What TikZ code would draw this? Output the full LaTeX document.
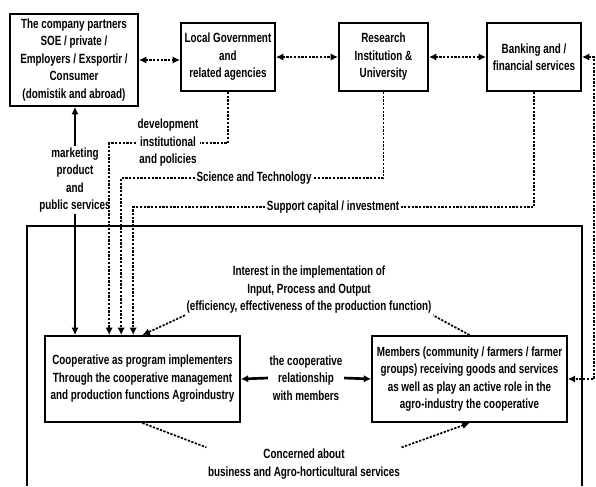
\documentclass[tikz,border=0pt]{standalone}
\usepackage{fontspec}
\setmainfont{Liberation Sans}[FakeStretch=0.74]
\usetikzlibrary{positioning, arrows.meta, calc}

\begin{document}
\begin{tikzpicture}[x=0.75pt, y=-0.75pt,
  >={Latex[length=5.5pt,width=5.5pt]},
  font=\fontsize{10}{13.1}\selectfont\bfseries,
  box/.style={draw, line width=1.5pt, align=center, inner sep=2pt},
  flow/.style={line width=1.3pt, dash pattern=on 1.7pt off 1.1pt},
  link/.style={line width=1.1pt},
  lbl/.style={align=center, inner sep=1pt}]
  \useasboundingbox (0,0) rectangle (596,486);

  % outer frame (open at the bottom)
  \draw[line width=1.3pt] (27,486) |- (582,226) -- (582,486);

  % partners and institutions
  \node[box, minimum width=96pt, minimum height=69pt] (partner) at (74,60)
    {The company partners\\SOE / private /\\Employers / Exsportir /\\Consumer\\(domistik and abroad)};
  \node[box, minimum width=70.5pt, minimum height=51pt] (gov) at (228,57)
    {Local Government\\and\\related agencies};
  \node[box, minimum width=66.75pt, minimum height=51pt] (research) at (383.5,57)
    {Research\\Institution \&\\University};
  \node[box, minimum width=70.5pt, minimum height=51pt] (bank) at (534,57)
    {Banking and /\\financial services};

  % cooperative and members
  \node[box, minimum width=146pt, minimum height=64.5pt] (coop) at (142.5,379)
    {Cooperative as program implementers\\Through the cooperative management\\and production functions Agroindustry};
  \node[box, minimum width=146pt, minimum height=64.5pt] (members) at (469.5,379)
    {Members (community / farmers / farmer\\groups) receiving goods and services\\as well as play an active role in the\\agro-industry the cooperative};

  % labels
  \node[lbl] (mkt) at (75,180) {marketing\\product\\and\\public services};
  \node[lbl] (dev) at (168,143) {development\\institutional\\and policies};
  \node[lbl] (sci) at (254,178) {Science and Technology};
  \node[lbl] (sup) at (333,207) {Support capital / investment};
  \node[lbl] (rel) at (306,378) {the cooperative\\relationship\\with members};
  \node[lbl] (intr) at (309,290)
    {Interest in the implementation of\\Input, Process and Output\\(efficiency, effectiveness of the production function)};
  \node[lbl] (conc) at (304,464) {Concerned about\\business and Agro-horticultural services};

  \coordinate (devin) at ($(coop.north west)+(65,0)$);
  \coordinate (sciin) at ($(coop.north west)+(77,0)$);
  \coordinate (supin) at ($(coop.north west)+(89,0)$);
  \coordinate (bankloop) at ($(bank.east)+(12,0)$);

  % top row links
  \draw[flow, <->] (partner.east) -- (partner.east -| gov.west);
  \draw[flow, <->] (gov.east) -- (research.west);
  \draw[flow, <->] (research.east) -- (bank.west);
  \draw[flow, <->] (bank.east) -- (bankloop) |- (members.east);

  % marketing
  \draw[link, ->] (mkt.north) -- (partner.south -| mkt.north);
  \draw[link, ->] (mkt.south) -- (mkt.south |- coop.north);

  % support from institutions
  \draw[flow] (gov.south) |- (dev.east);
  \draw[flow, ->] (dev.west) -| (devin);
  \draw[flow] (research.south) |- (sci.east);
  \draw[flow, ->] (sci.west) -| (sciin);
  \draw[flow] (bank.south) |- (sup.east);
  \draw[flow, ->] (sup.west) -| (supin);

  % inside the cooperative
  \draw[line width=2pt, ->] (rel.west) -- (coop.east);
  \draw[line width=2pt, ->] (rel.east) -- (members.west);
  \draw[flow] (members.north) -- (intr.south east);
  \draw[flow, ->] (intr.south west) -- (coop.north);
  \draw[flow] (coop.south) -- (conc.north west);
  \draw[flow, ->] (conc.north east) -- (members.south);
\end{tikzpicture}
\end{document}
